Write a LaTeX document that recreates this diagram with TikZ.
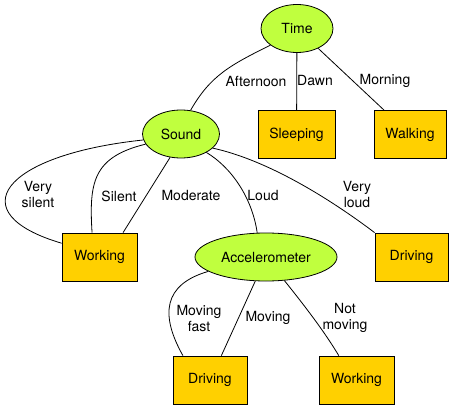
\documentclass[tikz,border=0pt]{standalone}
\usepackage{fontspec}
\setmainfont{TeX Gyre Heros}
\usetikzlibrary{shapes.geometric}
\definecolor{sensorgreen}{RGB}{192,255,62}
\definecolor{stategold}{RGB}{255,208,0}
\tikzset{
  sensor/.style={
    ellipse,
    fill=sensorgreen,
    draw=black, thick,
    minimum height=48pt,
    inner sep=0pt},
  activity/.style={
    rectangle,
    fill=stategold,
    draw=black, thick,
    minimum height=48pt,
    inner sep=0pt},
  edge/.style={draw, line width=0.8pt},
  cond/.style={align=center, inner sep=0pt},
}
\begin{document}
\begin{tikzpicture}
  [x=1pt, y=-1pt,
  font=\fontsize{14}{16}\selectfont]
  \useasboundingbox (0,0) rectangle (449,406);
  % decision nodes
  \node[sensor, minimum width=72pt] (time) at (297,28.5) {Time};
  \node[sensor, minimum width=77pt] (sound) at (181,134) {Sound};
  \node[sensor, minimum width=142pt] (accel) at (266,257) {Accelerometer};
  % leaves
  \node[activity, minimum width=77pt] (sleeping) at (296.5,134.5) {Sleeping};
  \node[activity, minimum width=72pt] (walking) at (410,134.5) {Walking};
  \node[activity, minimum width=75pt] (working1) at (99.5,257) {Working};
  \node[activity, minimum width=73pt] (driving1) at (411.5,257) {Driving};
  \node[activity, minimum width=74pt] (driving2) at (210,380) {Driving};
  \node[activity, minimum width=75pt] (working2) at (356.5,380) {Working};

  % branches of the time node
  \draw[edge] (time.212) .. controls +(-40,20) and +(20,-35) .. (sound.68);
  \draw[edge] (time) -- (sleeping);
  \draw[edge] (time) -- (walking);
  \node[cond] (afternoon) at (256,81) {Afternoon};
  \node[cond] (dawn) at (315,81) {Dawn};
  \node[cond] (morning) at (385,81) {Morning};

  % branches of the sound node
  \draw[edge] (sound.189) .. controls +(-142,15) and +(-102,-30) .. (working1.160);
  \draw[edge] (sound.196) .. controls +(-53,13) and +(-3,-50) .. (working1.107);
  \draw[edge] (sound.245) -- (working1.46);
  \draw[edge] (sound.-36) .. controls +(25,15) and +(-5,-35) .. (accel.110);
  \draw[edge] (sound.-24) .. controls +(55,12) and +(-45,-34) .. (driving1.north west);
  \node[cond] (verysilent) at (38,195) {Very\\silent};
  \node[cond] (silent) at (119,196) {Silent};
  \node[cond] (moderate) at (191,196) {Moderate};
  \node[cond] (loud) at (263,196) {Loud};
  \node[cond] (veryloud) at (357,195) {Very\\loud};

  % branches of the accelerometer node
  \draw[edge] (accel.194) .. controls +(-45,13) and +(-23,-41) .. (driving2.138);
  \draw[edge] (accel.246) -- (driving2.65);
  \draw[edge] (accel.-52) .. controls +(20,25) and +(-15,-25) .. (working2.126);
  \node[cond] (movingfast) at (199,318) {Moving\\fast};
  \node[cond] (moving) at (268,318) {Moving};
  \node[cond] (notmoving) at (345,318) {Not\\moving};
\end{tikzpicture}
\end{document}
